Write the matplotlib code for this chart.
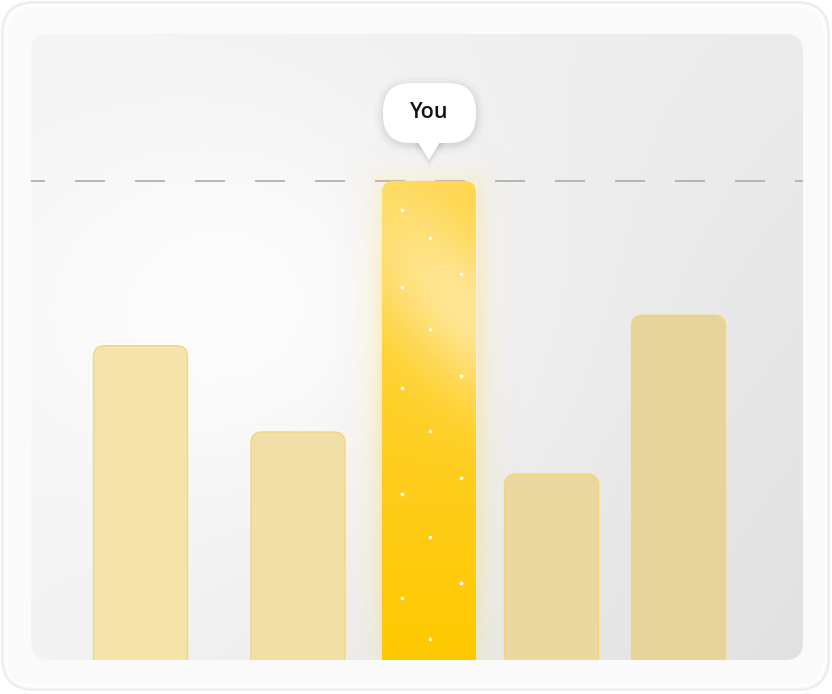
import numpy as np
import matplotlib
matplotlib.use("Agg")
import matplotlib.pyplot as plt
from matplotlib.patches import FancyBboxPatch, Polygon
import matplotlib.transforms as mtransforms

plt.rcParams['lines.scale_dashes'] = False

# ---------------- data ----------------
categories = ["A", "B", "You", "D", "E"]
values = [65.6, 47.6, 100.0, 38.8, 72.0]
highlight = "You"
callout_label = "You"
bar_colors = ["#f4e4ac", "#f0e0a7", "#ffc800", "#e9d9a0", "#e6d49d"]

# decorative sparkles on highlighted bar (fraction across, fraction down)
sparkle_cols = [0.21, 0.51, 0.84, 0.21, 0.51, 0.84, 0.21, 0.51, 0.84, 0.21, 0.51, 0.84, 0.21, 0.51]
sparkle_rows = [0.061, 0.119, 0.194, 0.221, 0.309, 0.407, 0.432, 0.522, 0.620, 0.653, 0.743, 0.839, 0.871, 0.956]

# ---------------- layout ----------------
W, H = 832, 694
PX0, PY0, PW, PH = 31, 34, 772, 626       # inner panel (pixels, y from top)
bar_pos = [109.5, 267, 398, 520.5, 647.5]  # bar centres in panel pixels
bar_w = 94
px_per_100 = 479.0
ymax = PH / px_per_100 * 100
ypx = ymax / PH  # value units per pixel

fig = plt.figure(figsize=(W / 100, H / 100), dpi=100)
fig.patch.set_facecolor("white")

bg = fig.add_axes([0, 0, 1, 1])
bg.set_xlim(0, W)
bg.set_ylim(H, 0)
bg.axis("off")

# outer frame
shadow = FancyBboxPatch((2, 2), W - 5, H - 6, boxstyle="round,pad=0,rounding_size=32",
                        fc="#f3f3f3", ec="#ececec", lw=1.2)
bg.add_patch(shadow)
outer = FancyBboxPatch((6, 6), W - 13, H - 14, boxstyle="round,pad=0,rounding_size=28",
                       fc="#fafafa", ec="#fdfdfd", lw=3)
bg.add_patch(outer)

# inner panel gradient
panel = FancyBboxPatch((PX0, PY0), PW, PH, boxstyle="round,pad=0,rounding_size=18",
                       fc="none", ec="none")
bg.add_patch(panel)
gy, gx = np.mgrid[0:PH, 0:PW]
xf = gx / PW
yf = gy / PH
base = 0.952 - 0.03 * xf - 0.037 * xf * yf
glowbg = np.exp(-(((gx - 230) / 260.0) ** 2 + ((gy - 280) / 230.0) ** 2))
val = np.clip(base + 0.05 * glowbg, 0, 1)
img = np.dstack([val, val, val])
im = bg.imshow(img, extent=(PX0, PX0 + PW, PY0 + PH, PY0), interpolation="bilinear", zorder=1)
im.set_clip_path(panel)

# ---------------- data axes ----------------
ax = fig.add_axes([PX0 / W, (H - PY0 - PH) / H, PW / W, PH / H])
ax.set_xlim(0, PW)
ax.set_ylim(0, ymax)
ax.axis("off")
ax.patch.set_alpha(0)

hi = categories.index(highlight)

# reference line at the highlighted value
ax.axhline(values[hi], color="#b0b0b0", lw=1.3,
           linestyle=(16 * 0.72, (30 * 0.72, 30 * 0.72)), zorder=1)

for i, (cat, v) in enumerate(zip(categories, values)):
    x0 = bar_pos[i] - bar_w / 2
    patch = FancyBboxPatch((x0, -5), bar_w, v + 5,
                           boxstyle="round,pad=0,rounding_size=11",
                           mutation_aspect=ypx,
                           fc=bar_colors[i] if i != hi else "none",
                           ec="#f3d67c" if i != hi else "none", lw=1.0, zorder=3)
    ax.add_patch(patch)
    if i == hi:
        # glow
        gpad = 45
        gw = int(bar_w + 2 * gpad)
        gh = int(v / ypx + gpad)
        yy, xx = np.mgrid[0:gh, 0:gw]
        ypix_top = yy - gpad  # negative above bar top
        dx = np.maximum(np.maximum(gpad - xx, xx - (gpad + bar_w)), 0)
        dy = np.maximum(-ypix_top, 0)
        d = np.hypot(dx, dy)
        a = 0.38 * np.exp(-d / 11.0)
        a[(dx == 0) & (dy == 0)] = 0
        vert = np.clip(ypix_top / (v / ypx), 0, 1)
        a *= 0.45 + 0.55 * np.sin(np.pi * vert) ** 0.5
        rgba = np.zeros((gh, gw, 4))
        rgba[..., 0] = 1.0
        rgba[..., 1] = 0.86
        rgba[..., 2] = 0.35
        rgba[..., 3] = a
        ax.imshow(rgba, extent=(x0 - gpad, x0 + bar_w + gpad, 0, v + gpad * ypx),
                  origin="upper", interpolation="bilinear", zorder=2, aspect="auto")
        # gradient fill
        hpx = int(v / ypx)
        yy, xx = np.mgrid[0:hpx, 0:bar_w]
        t = yy / hpx
        top = np.array([1.0, 0.84, 0.29])
        bot = np.array([1.0, 0.785, 0.0])
        col = top[None, None, :] * (1 - t[..., None]) + bot[None, None, :] * t[..., None]
        # soft diagonal light from the right towards the centre
        u = (xx - 78) * 0.75 - (yy - 125) * 0.66
        w_ = (xx - 78) * 0.66 + (yy - 125) * 0.75
        h = np.exp(-((u / 60.0) ** 2 + (w_ / 140.0) ** 2))
        light = np.array([0.995, 0.92, 0.67])
        col = col * (1 - 0.8 * h[..., None]) + light[None, None, :] * 0.8 * h[..., None]
        gim = ax.imshow(col, extent=(x0, x0 + bar_w, 0, v), origin="upper",
                        interpolation="bilinear", zorder=3, aspect="auto")
        gim.set_clip_path(patch)
        # sparkles
        sx = [x0 + c * bar_w for c in sparkle_cols]
        sy = [v * (1 - r) for r in sparkle_rows]
        ax.scatter(sx, sy, s=7, color="white", zorder=4, linewidths=0)

ax.set_aspect("auto")
ax.set_xlim(0, PW)
ax.set_ylim(0, ymax)

# ---------------- callout bubble ----------------
trans = mtransforms.ScaledTranslation(bar_pos[hi], values[hi], ax.transData)
for k, al in [(9, 0.012), (6, 0.018), (3.5, 0.025), (1.5, 0.03)]:
    sh = FancyBboxPatch((-46 - k, 38 - k - 2), 93 + 2 * k, 60 + 2 * k,
                        boxstyle="round,pad=0,rounding_size=%g" % (28 + k),
                        fc="#000000", ec="none", alpha=al, transform=trans, clip_on=False, zorder=5)
    ax.add_patch(sh)
    tri_s = Polygon([(-14 - k, 42), (14 + k, 42), (0, 20 - k)], closed=True, fc="#000000",
                    ec="none", alpha=al, transform=trans, clip_on=False, zorder=5)
    ax.add_patch(tri_s)
body = FancyBboxPatch((-46, 38), 93, 60, boxstyle="round,pad=0,rounding_size=28",
                      fc="white", ec="none", transform=trans, clip_on=False, zorder=6)
ax.add_patch(body)
tri = Polygon([(-13, 42), (13, 42), (0, 21)], closed=True, fc="white", ec="none",
              transform=trans, clip_on=False, zorder=6)
ax.add_patch(tri)
ax.text(0, 69, callout_label, transform=trans, ha="center", va="center",
        fontsize=15.5, fontweight="semibold", family=["Open Sans", "DejaVu Sans"],
        color="#111111", zorder=7)

fig.savefig("out.png", dpi=100, facecolor="white")
